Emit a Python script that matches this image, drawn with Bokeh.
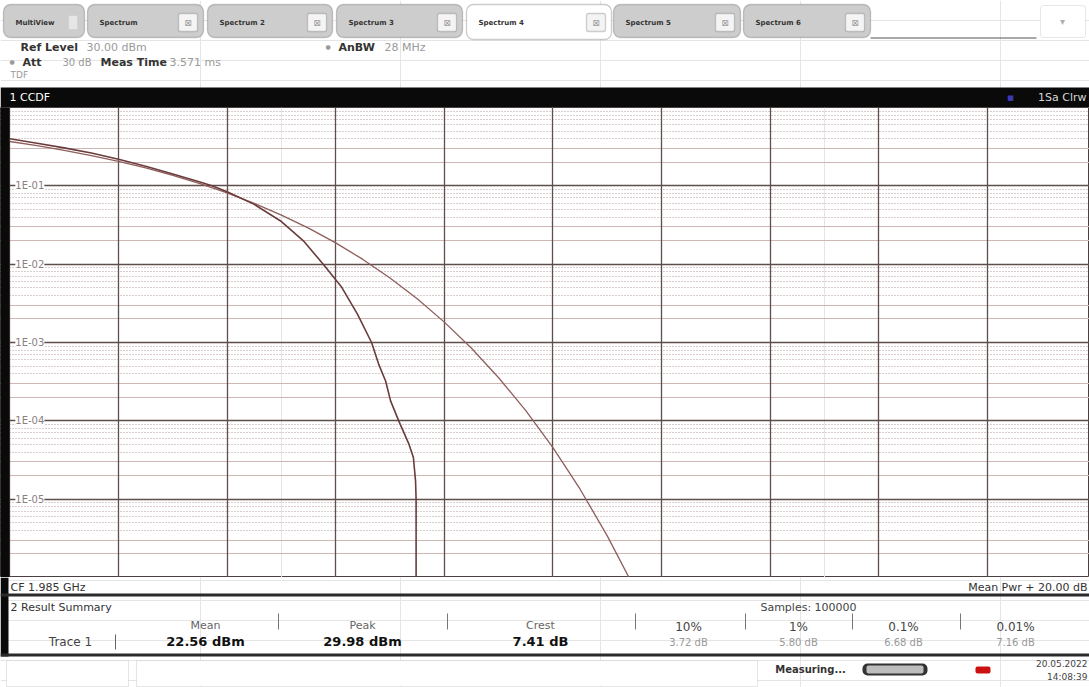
from bokeh.plotting import figure
from bokeh.models import Range1d, Grid, FixedTicker, Label, BoxAnnotation
from bokeh.layouts import column
from bokeh.embed import file_html
from bokeh.resources import INLINE

# ---------------- data ----------------
# Trace 1: measured CCDF, power above mean (dB) vs probability
trace_db = [0.0, 0.5, 1.0, 1.5, 2.0, 2.5, 3.0, 3.5, 3.72, 4.0, 4.5, 5.0, 5.4,
            5.77, 6.1, 6.4, 6.66, 6.79, 6.92, 7.01, 7.16, 7.35, 7.43, 7.47, 7.48, 7.48]
trace_ccdf = [0.40, 0.35, 0.305, 0.262, 0.218, 0.178, 0.142, 0.112, 0.10, 0.084, 0.058,
              0.035, 0.020, 0.010, 0.0052, 0.0023, 0.0010, 5.3e-4, 3.2e-4,
              1.8e-4, 1.0e-4, 5.0e-5, 3.4e-5, 1.7e-5, 1.0e-5, 1.0e-6]
# Reference (Gaussian noise) CCDF curve
gauss_db = [0.0, 0.5, 1.0, 1.5, 2.0, 2.5, 3.0, 3.5, 4.0, 4.5, 5.0, 5.5, 6.0, 6.5, 7.0,
            7.5, 8.0, 8.5, 9.0, 9.5, 10.0, 10.5, 11.0, 11.4]
gauss_ccdf = [0.368, 0.326, 0.284, 0.243, 0.205, 0.169, 0.136, 0.107, 0.0811, 0.0597,
              0.0423, 0.0288, 0.0187, 0.0115, 0.00666, 0.00361, 0.00182, 8.43e-4,
              3.55e-4, 1.35e-4, 4.54e-5, 1.34e-5, 3.4e-6, 1.0e-6]

x_ticks_db = [0, 2, 4, 6, 8, 10, 12, 14, 16, 18, 20]
y_decades = [1.0, 1e-1, 1e-2, 1e-3, 1e-4, 1e-5, 1e-6]
y_tick_values = [1e-1, 1e-2, 1e-3, 1e-4, 1e-5]
y_tick_labels = ["1E-01", "1E-02", "1E-03", "1E-04", "1E-05"]

tab_names = ["MultiView", "Spectrum", "Spectrum 2", "Spectrum 3", "Spectrum 4",
             "Spectrum 5", "Spectrum 6"]
summary_names = ["Mean", "Peak", "Crest"]
summary_values = ["22.56 dBm", "29.98 dBm", "7.41 dB"]
pct_names = ["10%", "1%", "0.1%", "0.01%"]
pct_values = ["3.72 dB", "5.80 dB", "6.68 dB", "7.16 dB"]

# ---------------- helpers ----------------
W = 1089
FONT = "DejaVu Sans"


def lab(p, x, y, text, size=11, color="#222222", align="left", style="normal",
        font=FONT, baseline="middle", bg=None):
    p.add_layout(Label(x=x, y=y, text=text, text_font=font,
                       text_font_size=f"{size}px", text_color=color,
                       text_align=align, text_baseline=baseline,
                       text_font_style=style, background_fill_color=bg))


def box(p, l, r, t, b, fill="white", line=None, lw=1.0, radius=0):
    p.add_layout(BoxAnnotation(left=l, right=r, top=t, bottom=b, fill_color=fill,
                               fill_alpha=1.0, line_color=line, line_width=lw,
                               border_radius=radius, level="underlay"))


def panel(y0, y1):
    p = figure(width=W, height=y1 - y0, x_range=Range1d(0, 1089), y_range=Range1d(y1, y0),
               x_axis_location=None, y_axis_location=None, toolbar_location=None,
               output_backend="svg", min_border=0, outline_line_color=None,
               background_fill_color="white", border_fill_color="white")
    return p


# ---------------- header (page y 0..107) ----------------
hdr = panel(0, 107)
tab_l = [3, 87, 207, 336, 466, 613, 743]
tab_r = [84, 203, 332, 462, 611, 740, 870]
for i, name in enumerate(tab_names):
    active = (i == 4)
    box(hdr, tab_l[i], tab_r[i], 4, 39 if active else 37,
        fill="white" if active else "#cdcdcd", line="#555555", lw=1.3, radius=7)
    lab(hdr, tab_l[i] + 12, 22, name, size=7, color="#333333", style="bold")
    if i == 0:
        box(hdr, tab_r[i] - 16, tab_r[i] - 7, 15, 29, fill="#e6e6e6", line="#c4c4c4")
    else:
        box(hdr, tab_r[i] - 25, tab_r[i] - 6, 13, 31, fill="#f4f4f4", line="#666666",
            lw=1.3, radius=2)
        lab(hdr, tab_r[i] - 15.5, 22, "⊠", size=9, color="#a0a0a0", align="center")
box(hdr, 870, 1036, 37, 38, fill="#555555")
box(hdr, 1040, 1085, 5, 37, fill="white", line="#b0b0b0", radius=3)
lab(hdr, 1062, 21, "▾", size=10, color="#b0b0b0", align="center")

lab(hdr, 20, 47, "Ref Level", size=11, color="#333333", style="bold")
lab(hdr, 86, 47, "30.00 dBm", size=11, color="#9a9a9a")
lab(hdr, 9, 61, "●", size=6, color="#9a9a9a")
lab(hdr, 22, 62, "Att", size=11, color="#333333", style="bold")
lab(hdr, 91, 62, "30 dB", size=10, color="#9a9a9a", align="right")
lab(hdr, 100, 62, "Meas Time", size=11, color="#333333", style="bold")
lab(hdr, 169, 62, "3.571 ms", size=11, color="#9a9a9a")
lab(hdr, 10, 74, "TDF", size=9, color="#9a9a9a")
lab(hdr, 325, 46, "●", size=6, color="#9a9a9a")
lab(hdr, 338, 47, "AnBW", size=11, color="#333333", style="bold")
lab(hdr, 384, 47, "28 MHz", size=11, color="#9a9a9a")

box(hdr, 0, 1089, 87, 107, fill="#0a0a0a")
lab(hdr, 9, 97, "1 CCDF", size=11, color="white")
lab(hdr, 1010, 97, "■", size=7, color="#3a3ab8", align="center")
lab(hdr, 1086, 97, "1Sa Clrw", size=11, color="#d8d8d8", align="right")

# ---------------- chart (page y 107..577) ----------------
X0 = -0.173   # page x = 0
XF = -0.007   # page x = 9 (frame edge inside the black border)
ch = figure(width=W, height=470, x_range=Range1d(X0, 19.88),
            y_range=Range1d(1e-6, 1.0), y_axis_type="log",
            x_axis_location=None, y_axis_location=None, toolbar_location=None,
            output_backend="svg", min_border=0, outline_line_color="#4a4040",
            background_fill_color="white", border_fill_color="white")

minor_solid = [m * 10.0 ** e for e in range(-6, 0) for m in (2, 3)]
minor_dot = [m * 10.0 ** e for e in range(-6, 0) for m in (4, 5, 6, 7, 8, 9)]
ch.add_layout(Grid(dimension=1, ticker=FixedTicker(ticks=minor_dot),
                   grid_line_color="#b39c9a", grid_line_dash="1 2", grid_line_width=1))
ch.add_layout(Grid(dimension=1, ticker=FixedTicker(ticks=minor_solid),
                   grid_line_color="#cdb6b4", grid_line_width=1))
ch.add_layout(Grid(dimension=1, ticker=FixedTicker(ticks=y_decades),
                   grid_line_color="#5e4e4c", grid_line_width=1.3))
ch.add_layout(Grid(dimension=0, ticker=FixedTicker(ticks=x_ticks_db),
                   grid_line_color="#5e4e4c", grid_line_width=1.3))
ch.add_layout(BoxAnnotation(left=X0, right=XF, fill_color="#0a0a0a", fill_alpha=1.0,
                            line_color=None, level="overlay"))

for yv, t in zip(y_tick_values, y_tick_labels):
    lab(ch, 0.1, yv, t, size=10, color="#8a8080", bg="white")

ch.line(gauss_db, gauss_ccdf, line_color="#8e5e5c", line_width=1.3)
ch.line(trace_db, trace_ccdf, line_color="#6a3c3c", line_width=1.6)

# ---------------- footer (page y 577..687) ----------------
ft = panel(577, 687)
box(ft, 0, 8, 577, 656, fill="#0a0a0a")
lab(ft, 10, 587, "CF 1.985 GHz", size=11, color="#333333")
lab(ft, 1087, 587, "Mean Pwr + 20.00 dB", size=11, color="#333333", align="right")
box(ft, 0, 1089, 593, 596, fill="#2a2a2a")
lab(ft, 10, 607, "2 Result Summary", size=11, color="#333333")
lab(ft, 808, 607, "Samples: 100000", size=11, color="#444444", align="center")
lab(ft, 70, 641, "Trace 1", size=12, color="#444444", align="center")

sum_x = [205, 362, 540]
for x, n, v in zip(sum_x, summary_names, summary_values):
    lab(ft, x, 625, n, size=11, color="#666666", align="center")
    lab(ft, x, 641, v, size=13, color="#111111", align="center", style="bold")
pct_x = [688, 798, 903, 1015]
for x, n, v in zip(pct_x, pct_names, pct_values):
    lab(ft, x, 626, n, size=12, color="#444444", align="center")
    lab(ft, x, 642, v, size=10, color="#999999", align="center")

ft.segment(x0=[115], y0=[634], x1=[115], y1=[649], line_color="#666666", line_width=1)
sep_x = [278, 447, 635, 745, 852, 960]
ft.segment(x0=sep_x, y0=[613] * 6, x1=sep_x, y1=[629] * 6, line_color="#777777",
           line_width=1)

box(ft, 0, 1089, 653, 656, fill="#2a2a2a")
box(ft, 6, 128, 660, 686, fill="white", line="#aaaaaa")
box(ft, 136, 757, 660, 686, fill="white", line="#aaaaaa")
lab(ft, 810, 669, "Measuring...", size=10, color="#333333", align="center", style="bold")
box(ft, 862, 927, 663, 675, fill="#333333", radius=5)
box(ft, 866, 923, 665, 673, fill="#bdbdbd", radius=2)
box(ft, 975, 990, 666, 673, fill="#cc1111", radius=2)
lab(ft, 1087, 663, "20.05.2022", size=9, color="#444444", align="right")
lab(ft, 1087, 676, "14:08:39", size=9, color="#444444", align="right")

layout = column(hdr, ch, ft, spacing=0)
open("out.html", "w").write(file_html(layout, INLINE))
